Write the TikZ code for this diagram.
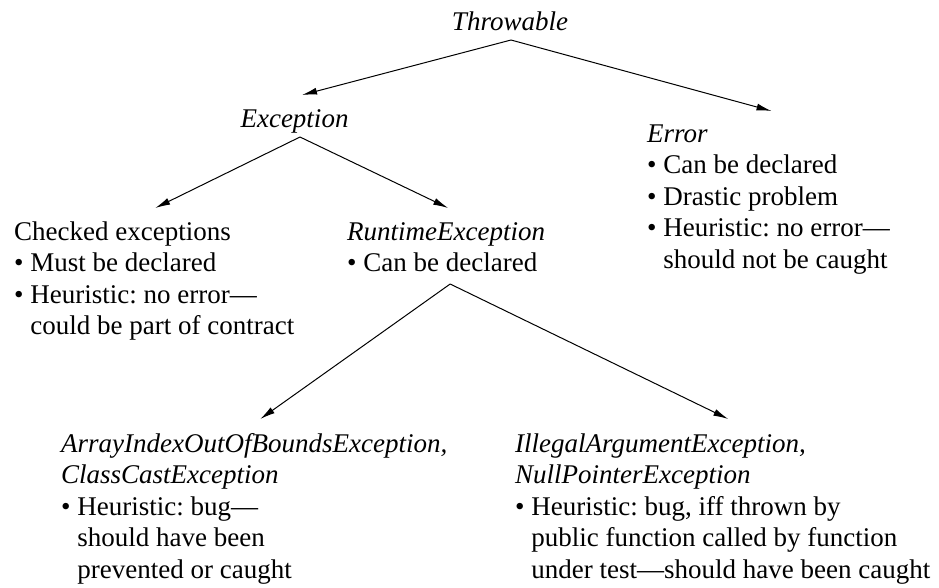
\documentclass[tikz,border=0pt]{standalone}
\usepackage{fontspec}
\setmainfont{Liberation Serif}
\usetikzlibrary{arrows.meta}
\newcommand{\cont}{\phantom{\textbullet\ }}
\frenchspacing

\begin{document}
\begin{tikzpicture}[x=1pt, y=-1pt,
                every node/.style={inner sep=0pt, font=\fontsize{27}{31.5}\selectfont},
                cls/.style={anchor=base, font=\fontsize{27}{31.5}\selectfont\itshape},
                blk/.style={anchor=base west, align=left},
                every edge/.style={draw, line width=1pt, -{Latex[length=15pt,width=7pt]}}]

                \useasboundingbox (0,0) rectangle (939,587);

                % blocks are placed by the baseline of their last line
                \node[cls] (throwable) at (510,30) {Throwable};
                \node[cls] (exception) at (294.5,127) {Exception};
                \node[blk] (error) at (647,268) {{\itshape Error}\\
                    \textbullet\ Can be declared\\
                    \textbullet\ Drastic problem\\
                    \textbullet\ Heuristic: no error---\\
                    \cont should not be caught};
                \node[blk] (checked) at (14,334.5) {Checked exceptions\\
                    \textbullet\ Must be declared\\
                    \textbullet\ Heuristic: no error---\\
                    \cont could be part of contract};
                \node[blk] (runtime) at (347,271.5) {{\itshape RuntimeException}\\
                    \textbullet\ Can be declared};
                \node[blk] (arrayidx) at (61,578) {{\itshape ArrayIndexOutOfBoundsException,}\\
                    {\itshape ClassCastException}\\
                    \textbullet\ Heuristic: bug---\\
                    \cont should have been\\
                    \cont prevented or caught};
                \node[blk] (illegalarg) at (515,578) {{\itshape IllegalArgumentException,}\\
                    {\itshape NullPointerException}\\
                    \textbullet\ Heuristic: bug, iff thrown by\\
                    \cont public function called by function\\
                    \cont under test---should have been caught};

                \path
                    ([xshift=1pt,yshift=-10pt]throwable.base) edge ([xshift=7.5pt,yshift=32pt]exception.base) % Throwable to Exception
                    ([xshift=1pt,yshift=-10pt]throwable.base) edge ([xshift=3pt,yshift=157pt]error.base) % Throwable to Error
                    ([xshift=5.5pt,yshift=-10pt]exception.base) edge ([xshift=1pt,yshift=126.5pt]checked.base) % Exception to checked ones
                    ([xshift=5.5pt,yshift=-10pt]exception.base) edge ([xshift=2pt,yshift=63.5pt]runtime.base) % Exception to RuntimeException
                    ([xshift=4pt,yshift=-12.5pt]runtime.base) edge ([xshift=6pt,yshift=159pt]arrayidx.base) % RuntimeException to bugs
                    ([xshift=4pt,yshift=-12.5pt]runtime.base) edge ([xshift=5.5pt,yshift=159pt]illegalarg.base); % RuntimeException to misuse

                \end{tikzpicture}
\end{document}
